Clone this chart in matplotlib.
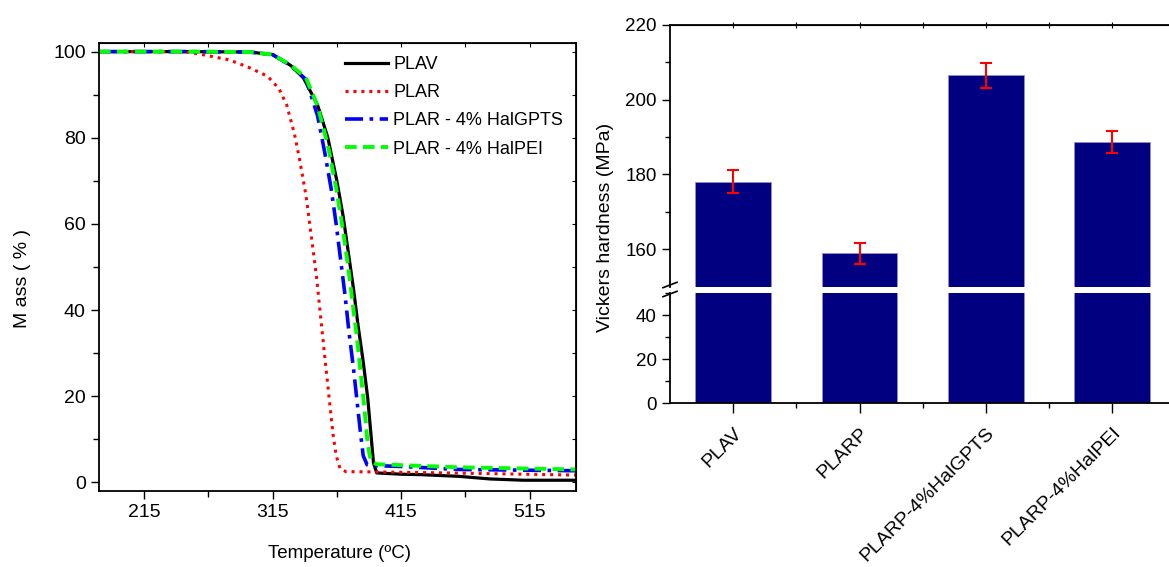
import matplotlib
matplotlib.use("Agg")
import matplotlib.pyplot as plt
from matplotlib.lines import Line2D
from matplotlib.ticker import MultipleLocator, FixedLocator

# TGA curves (temperature in C, mass in %)
plav_t = [180, 250, 297, 315, 329, 339, 350, 358, 365, 370, 374, 378, 381.5, 385.5, 389, 391.5, 393.5, 396, 415, 430, 460, 484, 510, 551]
plav_m = [100, 100, 99.9, 99.3, 96.8, 93.9, 87.6, 80.0, 70.0, 61.6, 53.2, 44.8, 36.4, 28.0, 19.6, 11.2, 4.5, 2.2, 1.9, 1.8, 1.4, 0.8, 0.5, 0.5]

plar_t = [180, 245, 257, 281, 296, 311, 320, 326, 332, 336, 341, 345, 349, 352.5, 356, 359, 362, 364.5, 367.5, 372, 400, 450, 551]
plar_m = [100, 100, 99.5, 98.1, 96.4, 94.3, 91.4, 87.6, 80.9, 75.0, 66.6, 57.4, 48.2, 38.1, 28.0, 19.6, 11.2, 6.2, 3.2, 2.5, 2.4, 2.2, 1.7]

gpts_t = [180, 250, 297, 315, 329, 341, 350, 355.5, 360.5, 364.5, 368, 371.5, 374.5, 378, 381, 383.5, 385.5, 388.5, 393, 415, 460, 551]
gpts_m = [100, 100, 99.9, 99.3, 96.8, 93.5, 85.1, 76.7, 68.3, 59.9, 51.5, 43.1, 34.7, 26.3, 18.0, 11.2, 6.2, 4.1, 3.9, 3.7, 3.0, 2.7]

pei_t = [180, 250, 297, 315, 329, 341, 350, 358, 364.5, 369.5, 373.5, 377, 380.5, 383.5, 386.5, 389, 391.5, 396, 415, 460, 551]
pei_m = [100, 100, 99.9, 99.3, 96.9, 93.9, 87.4, 78.3, 68.3, 59.1, 50.7, 42.3, 33.9, 25.5, 17.1, 8.7, 4.9, 4.2, 4.0, 3.5, 3.0]

# Vickers hardness
samples = ["PLAV", "PLARP", "PLARP-4%HalGPTS", "PLARP-4%HalPEI"]
hardness = [178.1, 158.9, 206.5, 188.6]
hardness_err = [3.0, 2.7, 3.3, 2.9]

plt.rcParams["font.family"] = "Liberation Sans"

W, H = 1169, 567
fig = plt.figure(figsize=(W / 100, H / 100), dpi=100)

# ---- left: TGA ----
ax = fig.add_axes([99 / W, 1 - 491 / H, 477 / W, 447.6 / H])
ax.plot(plav_t, plav_m, color="black", lw=2.3, label="PLAV")
ax.plot(plar_t, plar_m, color="red", lw=2.2, ls=(0, (1, 1.6)), label="PLAR")
ax.plot(gpts_t, gpts_m, color="blue", lw=2.6, ls=(0, (5, 1.8, 1, 1.8)), label="PLAR - 4% HalGPTS")
ax.plot(pei_t, pei_m, color="#00ff00", lw=2.8, ls=(0, (3, 1.6)), label="PLAR - 4% HalPEI")
ax.set_xlim(180, 551)
ax.set_ylim(-2, 101.9)
ax.xaxis.set_major_locator(FixedLocator([215, 315, 415, 515]))
ax.xaxis.set_minor_locator(FixedLocator([265, 365, 465]))
ax.yaxis.set_major_locator(MultipleLocator(20))
ax.yaxis.set_minor_locator(MultipleLocator(10))
ax.tick_params(which="major", direction="out", length=6, width=1, labelsize=14)
ax.tick_params(which="minor", direction="out", length=4, width=1)
for s in ax.spines.values():
    s.set_linewidth(1.3)
top = ax.secondary_xaxis("top")
top.xaxis.set_major_locator(FixedLocator([215, 265, 315, 365, 415, 465, 515]))
top.tick_params(direction="in", length=3, labeltop=False)
right = ax.secondary_yaxis("right")
right.yaxis.set_major_locator(MultipleLocator(10))
right.tick_params(direction="in", length=3, labelright=False)

ax.legend(loc="upper right", bbox_to_anchor=(1.0, 1.0), frameon=False, handlelength=2.4,
          handletextpad=0.3, labelspacing=0.62, borderaxespad=0.3, fontsize=13)
fig.text(339 / W, 1 - 553 / H, "Temperature (ºC)", fontsize=13.5, ha="center", va="center")
fig.text(23 / W, 1 - 279 / H, "M ass ( % )", fontsize=14, rotation=90, ha="center", va="center")

# ---- right: broken bar chart ----
x = [1, 2, 3, 4]
navy = "#000080"
ax_hi = fig.add_axes([670 / W, 1 - 286.8 / H, 505.5 / W, 262.2 / H])
ax_lo = fig.add_axes([670 / W, 1 - 403.3 / H, 505.5 / W, 110.3 / H], sharex=ax_hi)

ax_hi.bar(x, hardness, width=0.6, color=navy, edgecolor="#9090d0", lw=0.6)
ax_hi.errorbar(x, hardness, yerr=hardness_err, fmt="none", ecolor="red", elinewidth=1.5, capsize=4, capthick=1.5)
ax_lo.bar(x, hardness, width=0.6, color=navy, edgecolor="#9090d0", lw=0.6)

ax_hi.set_ylim(150, 220)
ax_lo.set_ylim(0, 50)
ax_hi.set_xlim(0.5, 4.5)

ax_hi.yaxis.set_major_locator(MultipleLocator(20))
ax_hi.yaxis.set_minor_locator(FixedLocator([170, 190, 210]))
ax_lo.yaxis.set_major_locator(MultipleLocator(20))
ax_lo.yaxis.set_minor_locator(MultipleLocator(10))

for a in (ax_hi, ax_lo):
    a.spines["right"].set_visible(False)
    a.spines["left"].set_linewidth(1.3)
    a.tick_params(which="major", direction="out", length=6, width=1, labelsize=13.5)
    a.tick_params(which="minor", direction="out", length=3.5, width=1)
ax_hi.spines["bottom"].set_visible(False)
ax_hi.spines["top"].set_linewidth(1.3)
ax_lo.spines["top"].set_visible(False)
ax_lo.spines["bottom"].set_linewidth(1.3)
ax_hi.tick_params(axis="x", which="both", bottom=False, labelbottom=False)

ax_lo.xaxis.set_major_locator(FixedLocator(x))
ax_lo.xaxis.set_minor_locator(FixedLocator([1.5, 2.5, 3.5]))
ax_lo.set_xticks(x)
ax_lo.set_xticklabels(samples, rotation=45, ha="right", va="top", rotation_mode="anchor", fontsize=14)
ax_lo.tick_params(axis="x", which="major", length=7, pad=8)

hi_top = ax_hi.secondary_xaxis("top")
hi_top.xaxis.set_major_locator(FixedLocator([1, 1.5, 2, 2.5, 3, 3.5, 4]))
hi_top.tick_params(direction="inout", length=4, labeltop=False)

# break marks on the left spine
for yc in (285, 294):
    fig.add_artist(Line2D([663 / W, 677 / W], [1 - (yc + 2.7) / H, 1 - (yc - 2.7) / H],
                          transform=fig.transFigure, color="black", lw=1.2))

fig.text(605 / W, 1 - 227 / H, "Vickers hardness (MPa)", fontsize=14, rotation=90, ha="center", va="center")

fig.savefig("out.png", dpi=100)
